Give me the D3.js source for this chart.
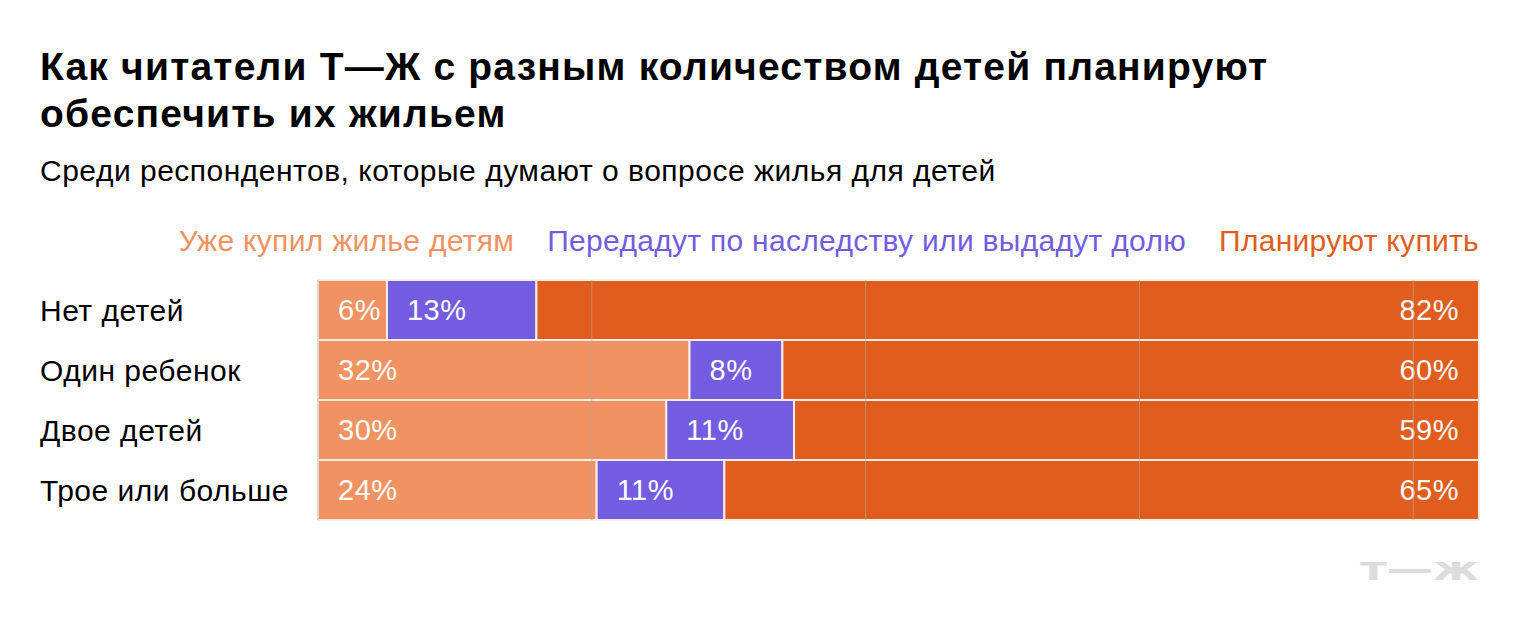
<!DOCTYPE html>
<html>
<head>
<meta charset="utf-8">
<script src="https://cdn.jsdelivr.net/npm/d3@7"></script>
<style>
  body { margin: 0; background: #fff; }
  svg { display: block; font-family: "Liberation Sans", Arial, sans-serif; }
  .reg { font-size: 30px; letter-spacing: 0.5px; }
</style>
</head>
<body>
<svg id="chart" width="1520" height="642"></svg>
<script>
var categories = ['Нет детей', 'Один ребенок', 'Двое детей', 'Трое или больше'];
var seriesNames = ['Уже купил жилье детям', 'Передадут по наследству или выдадут долю', 'Планируют купить'];
var boughtValues = [6, 32, 30, 24];
var inheritValues = [13, 8, 11, 11];
var planValues = [82, 60, 59, 65];
var gridTicks = [0, 25, 50, 75, 100];
var colors = ['#f09262', '#735ce0', '#e05d1e'];

var svg = d3.select('#chart');
var plotLeft = 318, plotRight = 1479, plotTop = 280, plotBottom = 520;

// title and subtitle
svg.append('text').attr('x', 40).attr('y', 80)
  .style('font-size', '39px').style('font-weight', 700).style('letter-spacing', '1.2px')
  .attr('fill', '#000')
  .text('Как читатели Т—Ж с разным количеством детей планируют');
svg.append('text').attr('x', 40).attr('y', 127)
  .style('font-size', '39px').style('font-weight', 700).style('letter-spacing', '1.2px')
  .attr('fill', '#000')
  .text('обеспечить их жильем');
svg.append('text').attr('class', 'reg').attr('x', 40).attr('y', 181)
  .attr('fill', '#000')
  .text('Среди респондентов, которые думают о вопросе жилья для детей');

// legend, right aligned
var legendX = plotRight;
for (var i = seriesNames.length - 1; i >= 0; i--) {
  var t = svg.append('text').attr('class', 'reg').attr('x', legendX).attr('y', 251)
    .attr('text-anchor', 'end')
    .style('letter-spacing', '0.3px')
    .attr('fill', colors[i])
    .text(seriesNames[i]);
  legendX -= t.node().getComputedTextLength() + 33;
}

var rows = categories.map(function(c, i){
  var vals = [boughtValues[i], inheritValues[i], planValues[i]];
  var total = d3.sum(vals);
  var acc = 0;
  return {
    name: c,
    segs: vals.map(function(v, k){
      var s = { k: k, v: v, x0: acc / total, x1: (acc + v) / total };
      acc += v;
      return s;
    })
  };
});

var x = d3.scaleLinear().domain([0, 1]).range([plotLeft, plotRight]);
var gridX = d3.scaleLinear().domain([0, 106]).range([plotLeft, plotRight]);
var y = d3.scaleBand().domain(categories).range([plotTop, plotBottom]).padding(0);

var row = svg.selectAll('g.row').data(rows).enter().append('g')
  .attr('class', 'row')
  .attr('transform', function(d){ return 'translate(0,' + y(d.name) + ')'; });

row.selectAll('rect').data(function(d){ return d.segs; }).enter().append('rect')
  .attr('x', function(d){ return x(d.x0); })
  .attr('width', function(d){ return x(d.x1) - x(d.x0); })
  .attr('y', 0)
  .attr('height', y.bandwidth())
  .attr('fill', function(d){ return colors[d.k]; })
  .attr('stroke', '#f8ece6')
  .attr('stroke-width', 2);

// category labels
row.append('text').attr('class', 'reg').attr('x', 40).attr('y', y.bandwidth() / 2 + 11)
  .attr('fill', '#000')
  .text(function(d){ return d.name; });

// grid lines over bars
svg.selectAll('line.grid').data(gridTicks).enter().append('line')
  .attr('class', 'grid')
  .attr('x1', function(d){ return gridX(d); })
  .attr('x2', function(d){ return gridX(d); })
  .attr('y1', plotTop).attr('y2', plotBottom)
  .attr('stroke', '#aaa').attr('stroke-opacity', 0.6).attr('stroke-width', 1);

// value labels
row.selectAll('text.val').data(function(d){ return d.segs; }).enter().append('text')
  .attr('class', 'val')
  .attr('x', function(d){ return d.k === 2 ? x(d.x1) - 20 : x(d.x0) + 20; })
  .attr('text-anchor', function(d){ return d.k === 2 ? 'end' : 'start'; })
  .attr('y', y.bandwidth() / 2 + 10)
  .style('font-size', '29px').style('letter-spacing', '0.5px').attr('fill', '#fff')
  .text(function(d){ return d.v + '%'; });

// logo
svg.append('text').attr('x', 1360).attr('y', 580)
  .attr('textLength', 119).attr('lengthAdjust', 'spacingAndGlyphs')
  .style('font-size', '32px').style('font-weight', 700).attr('fill', '#dcdcdc')
  .style('font-family', '"DejaVu Sans", sans-serif')
  .text('т—ж');
</script>
</body>
</html>
